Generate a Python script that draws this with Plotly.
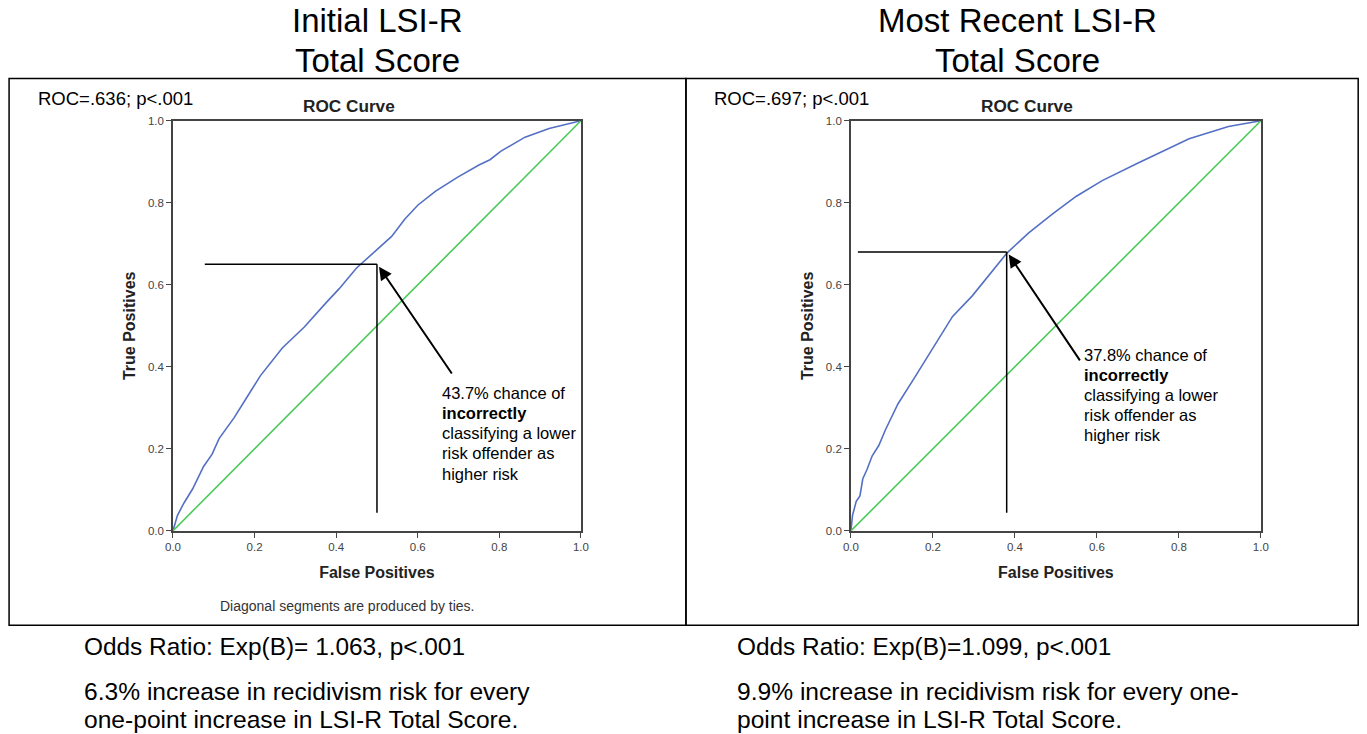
import plotly.graph_objects as go

W, H = 1367, 734
# measured capture correction (page px -> picture px: 0.9884*x + 8, 0.9787*y + 7.8)
SX, OX, SY, OY = 0.9884, 8.0, 0.9787, 7.8

# ---- data ----
initial_fpr = [0.0, 0.011, 0.027, 0.048, 0.075, 0.096, 0.113, 0.150, 0.182, 0.214, 0.268, 0.322,
               0.375, 0.407, 0.450, 0.498, 0.536, 0.568, 0.600, 0.643, 0.697, 0.750, 0.777, 0.804,
               0.863, 0.922, 1.0]
initial_tpr = [0.0, 0.038, 0.068, 0.102, 0.157, 0.187, 0.225, 0.276, 0.327, 0.378, 0.446, 0.497,
               0.556, 0.590, 0.641, 0.684, 0.718, 0.760, 0.794, 0.828, 0.862, 0.892, 0.905, 0.926,
               0.960, 0.981, 1.0]
recent_fpr = [0.0, 0.004, 0.013, 0.022, 0.029, 0.039, 0.052, 0.068, 0.084, 0.115, 0.153, 0.195,
              0.248, 0.296, 0.338, 0.381, 0.433, 0.492, 0.550, 0.613, 0.698, 0.762, 0.825, 0.921, 1.0]
recent_tpr = [0.0, 0.038, 0.072, 0.085, 0.127, 0.149, 0.183, 0.208, 0.246, 0.310, 0.370, 0.438,
              0.523, 0.573, 0.624, 0.678, 0.726, 0.773, 0.816, 0.854, 0.896, 0.926, 0.956, 0.986, 1.0]
reference_line = [0.0, 1.0]
tick_values = [0.0, 0.2, 0.4, 0.6, 0.8, 1.0]

# cut points (fpr, tpr) and guide extents
initial_cut = (0.5, 0.65)
initial_hline_start = 0.078
recent_cut = (0.38, 0.68)
recent_hline_start = 0.017
vline_bottom = 0.044
initial_arrow_tail = (0.686, 0.380)
recent_arrow_tail = (0.561, 0.412)

title_lines = [["Initial LSI-R", "Total Score"], ["Most Recent LSI-R", "Total Score"]]
roc_labels = ["ROC=.636; p<.001", "ROC=.697; p<.001"]
chance_lines = [["43.7% chance of", "<b>incorrectly</b>", "classifying a lower", "risk offender as", "higher risk"],
                ["37.8% chance of", "<b>incorrectly</b>", "classifying a lower", "risk offender as", "higher risk"]]
odds_texts = ["Odds Ratio: Exp(B)= 1.063, p<.001", "Odds Ratio: Exp(B)=1.099, p<.001"]
increase_lines = [["6.3% increase in recidivism risk for every", "one-point increase in LSI-R Total Score."],
                  ["9.9% increase in recidivism risk for every one-", "point increase in LSI-R Total Score."]]

BLUE = "#5470c4"
GREEN = "#4cc95a"
FONT = "Liberation Sans, Arial, sans-serif"


def px(x):
    return min(max(((x - OX) / SX) / W, 0.0), 1.0)


def py(y):
    return min(max(1 - ((y - OY) / SY) / H, 0.0), 1.0)


fig = go.Figure()

fig.add_trace(go.Scatter(x=initial_fpr, y=initial_tpr, mode="lines", line=dict(color=BLUE, width=1.6),
                         xaxis="x", yaxis="y", showlegend=False))
fig.add_trace(go.Scatter(x=reference_line, y=reference_line, mode="lines", line=dict(color=GREEN, width=1.6),
                         xaxis="x", yaxis="y", showlegend=False))
fig.add_trace(go.Scatter(x=recent_fpr, y=recent_tpr, mode="lines", line=dict(color=BLUE, width=1.6),
                         xaxis="x2", yaxis="y2", showlegend=False))
fig.add_trace(go.Scatter(x=reference_line, y=reference_line, mode="lines", line=dict(color=GREEN, width=1.6),
                         xaxis="x2", yaxis="y2", showlegend=False))

axis_common = dict(range=[0, 1], tickvals=tick_values, tickformat=".1f", showgrid=False, zeroline=False,
                   showline=True, linecolor="#444", linewidth=1.5, mirror=True, ticks="outside",
                   ticklen=5, tickwidth=1.2, tickcolor="#444",
                   tickfont=dict(family=FONT, size=11.5, color="#444"))

xt = dict(text="<b>False Positives</b>", font=dict(family=FONT, size=16, color="#222"), standoff=14)
yt = dict(text="<b>True Positives</b>", font=dict(family=FONT, size=16, color="#222"), standoff=8)
yd = [py(530), py(122)]
fig.update_layout(
    width=W, height=H, autosize=False,
    margin=dict(l=0, r=0, t=0, b=0),
    paper_bgcolor="white", plot_bgcolor="white",
    font=dict(family=FONT, color="black"),
    xaxis=dict(domain=[px(173), px(581)], anchor="y", title=xt, **axis_common),
    yaxis=dict(domain=yd, anchor="x", title=yt, **axis_common),
    xaxis2=dict(domain=[px(851), px(1261)], anchor="y2", title=xt, **axis_common),
    yaxis2=dict(domain=yd, anchor="x2", title=yt, **axis_common),
)

shapes = []
# outer boxes
shapes.append(dict(type="rect", xref="paper", yref="paper", x0=max(px(8), 0.0008), x1=px(686), y0=py(624), y1=py(80),
                   line=dict(color="black", width=1.5)))
shapes.append(dict(type="rect", xref="paper", yref="paper", x0=px(686), x1=min(px(1366), 0.9994), y0=py(624),
                   y1=py(80), line=dict(color="black", width=1.5)))
# guide lines
for xr, yr, cut, hstart in [("x", "y", initial_cut, initial_hline_start), ("x2", "y2", recent_cut, recent_hline_start)]:
    shapes.append(dict(type="line", xref=xr, yref=yr, x0=hstart, x1=cut[0], y0=cut[1], y1=cut[1],
                       line=dict(color="black", width=1.5)))
    shapes.append(dict(type="line", xref=xr, yref=yr, x0=cut[0], x1=cut[0], y0=cut[1], y1=vline_bottom,
                       line=dict(color="black", width=1.5)))
fig.update_layout(shapes=shapes)

ann = []
centers = [378, 1018]
roc_x = [36, 712]
roc_curve_x = [349, 1027]
for i in range(2):
    for j, line in enumerate(title_lines[i]):
        ann.append(dict(text=line, xref="paper", yref="paper", x=px(centers[i]), y=py(22 + 40 * j),
                        xanchor="center", yanchor="middle", showarrow=False,
                        font=dict(family=FONT, size=33, color="black")))
    ann.append(dict(text=roc_labels[i], xref="paper", yref="paper", x=px(roc_x[i]), y=py(100), xanchor="left",
                    yanchor="middle", showarrow=False, font=dict(family=FONT, size=18.5, color="black")))
    ann.append(dict(text="<b>ROC Curve</b>", xref="paper", yref="paper", x=px(roc_curve_x[i]), y=py(107),
                    xanchor="center", yanchor="middle", showarrow=False, font=dict(family=FONT, size=17.2, color="#222")))

ann.append(dict(text="Diagonal segments are produced by ties.", xref="paper", yref="paper", x=px(347), y=py(605),
                xanchor="center", yanchor="middle", showarrow=False, font=dict(family=FONT, size=14, color="#333")))

# arrows
for xr, yr, cut, tail in [("x", "y", initial_cut, initial_arrow_tail), ("x2", "y2", recent_cut, recent_arrow_tail)]:
    ann.append(dict(text="", xref=xr, yref=yr, x=cut[0] + 0.005, y=cut[1] - 0.006, axref=xr, ayref=yr,
                    ax=tail[0], ay=tail[1], showarrow=True, arrowhead=2, arrowsize=1.3, arrowwidth=2,
                    arrowcolor="black", standoff=0, startstandoff=0))

# chance text blocks, one annotation per line
chance_x = [440, 1082]
chance_y0 = [393, 355]
for i in range(2):
    for j, line in enumerate(chance_lines[i]):
        ann.append(dict(text=line, xref="paper", yref="paper", x=px(chance_x[i]), y=py(chance_y0[i] + 20 * j),
                        xanchor="left", yanchor="middle", showarrow=False,
                        font=dict(family=FONT, size=16.5, color="black")))

# bottom texts
bottom_x = [82, 735]
for i in range(2):
    ann.append(dict(text=odds_texts[i], xref="paper", yref="paper", x=px(bottom_x[i]), y=py(645), xanchor="left",
                    yanchor="middle", showarrow=False, font=dict(family=FONT, size=24.4, color="black")))
    for j, line in enumerate(increase_lines[i]):
        ann.append(dict(text=line, xref="paper", yref="paper", x=px(bottom_x[i]), y=py(690 + 28 * j),
                        xanchor="left", yanchor="middle", showarrow=False,
                        font=dict(family=FONT, size=24.6, color="black")))

fig.update_layout(annotations=ann)

fig.write_html("out.html", config={"displayModeBar": False},
               post_script="document.body.style.margin='0';document.body.style.overflow='hidden';")
